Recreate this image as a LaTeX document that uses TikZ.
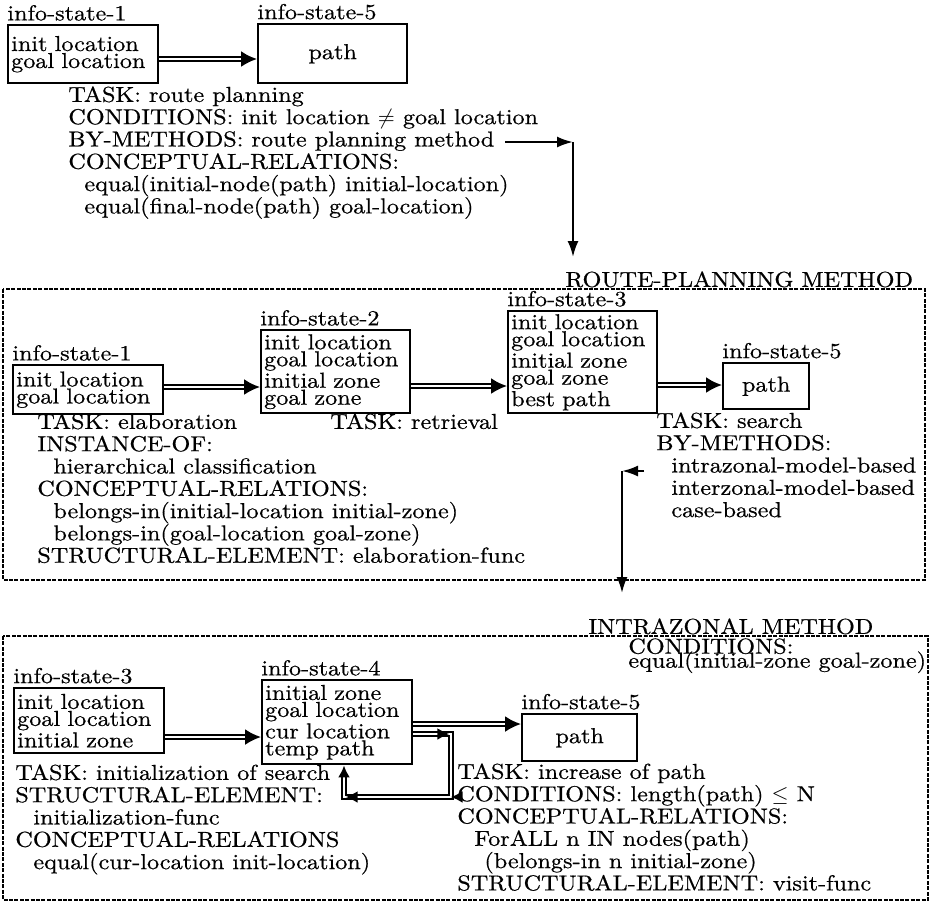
\documentclass[tikz,border=0pt]{standalone}
\usepackage{fontspec}
\setmainfont{lmroman10-regular.otf}[FakeStretch=1.12, FakeBold=0.6]
\usetikzlibrary{arrows.meta, decorations.markings}
\lineskiplimit=-20pt

\begin{document}
\begin{tikzpicture}[x=0.5pt, y=-0.5pt,
    every node/.style={font=\fontsize{10.8}{11.15}\selectfont},
    txt/.style={anchor=north west, align=left, inner sep=0pt},
    lbl/.style={anchor=south west, inner sep=0pt, yshift=1.5pt},
    infobox/.style={draw, line width=1.2pt, anchor=north west, inner sep=1.5pt, align=left, text width=#1, font=\fontsize{10.8}{8.5}\selectfont},
    pathbox/.style={draw, line width=1.2pt, anchor=north west, minimum width=#1},
    frame/.style={line width=0.9pt, dash pattern=on 2pt off 0.7pt},
    arr/.style={line width=1.1pt, -{Latex[length=8pt,width=5.5pt]}},
    dblarr/.style={double, double distance=1pt, line width=1.1pt, -{Latex[length=8pt,width=8pt]}}]
  \useasboundingbox (0,0) rectangle (930,902);

  % route planning task
  \node[infobox=72pt, minimum height=29pt] (a1) at (7,24) {init location\\goal location};
  \node[pathbox=74.5pt, minimum height=29.5pt] (a5) at (257,23) {path};
  \node[lbl] (a1l) at (a1.north west) {info-state-1};
  \node[lbl] (a5l) at (a5.north west) {info-state-5};
  \draw[dblarr] (a1.east |- 0,59) -- (a5.west |- 0,59);
  \node[txt] (t1) at (68,86) {TASK: route planning\\
    CONDITIONS: init location $\neq$ goal location\\
    BY-METHODS: route planning method\\
    CONCEPTUAL-RELATIONS:\\
    \hspace*{8pt}equal(initial-node(path) initial-location)\\
    \hspace*{8pt}equal(final-node(path) goal-location)};
  \coordinate (rp0) at (505,142);
  \coordinate (rp1) at (573,142);
  \coordinate (rp2) at (573,257);
  \draw[arr] (rp0) -- (rp1);
  \draw[arr] (rp1) -- (rp2);

  % route-planning method
  \draw[frame] (3,289) rectangle (925,580);
  \node[txt] (rpm) at (565,271) {ROUTE-PLANNING METHOD};
  \node[infobox=72pt, minimum height=24.5pt] (m1) at (12,364) {init location\\goal location};
  \node[infobox=71.5pt, minimum height=41.5pt] (m2) at (260,329) {init location\\goal location\\initial zone\\goal zone};
  \node[infobox=71.5pt, minimum height=50pt] (m3) at (507,310) {init location\\goal location\\initial zone\\goal zone\\best path};
  \node[pathbox=43pt, minimum height=23pt] (m5) at (722,362) {path};
  \node[lbl] (m1l) at (m1.north west) {info-state-1};
  \node[lbl] (m2l) at (m2.north west) {info-state-2};
  \node[lbl] (m3l) at (m3.north west) {info-state-3};
  \node[lbl] (m5l) at (m5.north west) {info-state-5};
  \draw[dblarr] (m1.east |- 0,387) -- (m2.west |- 0,387);
  \draw[dblarr] (m2.east |- 0,386) -- (m3.west |- 0,386);
  \draw[dblarr] (m3.east |- 0,385) -- (m5.west |- 0,385);
  \node[txt] (t2) at (37,413) {TASK: elaboration\\
    INSTANCE-OF:\\
    \hspace*{8pt}hierarchical classification\\
    CONCEPTUAL-RELATIONS:\\
    \hspace*{8pt}belongs-in(initial-location initial-zone)\\
    \hspace*{8pt}belongs-in(goal-location goal-zone)\\
    STRUCTURAL-ELEMENT: elaboration-func};
  \node[txt] (t3) at (330,413) {TASK: retrieval};
  \node[txt] (t4) at (656,412) {TASK: search\\
    BY-METHODS:\\
    \hspace*{7.5pt}intrazonal-model-based\\
    \hspace*{7.5pt}interzonal-model-based\\
    \hspace*{7.5pt}case-based};
  \coordinate (sm0) at (644,471);
  \coordinate (sm1) at (622,471);
  \coordinate (sm2) at (622,593);
  \draw[arr] (sm0) -- (sm1);
  \draw[arr] (sm1) -- (sm2);

  % intrazonal method
  \draw[frame] (3,636) rectangle (928,900);
  \node[txt] (imt) at (588,618) {INTRAZONAL METHOD};
  \node[txt, font=\fontsize{10.8}{7}\selectfont] (imc) at (628,638) {CONDITIONS:\\equal(initial-zone goal-zone)};
  \node[infobox=72pt, minimum height=32.5pt] (b3) at (13,687) {init location\\goal location\\initial zone};
  \node[infobox=72pt, minimum height=42pt] (b4) at (261,679) {initial zone\\goal location\\cur location\\temp path};
  \node[pathbox=57.5pt, minimum height=23.5pt] (b5) at (521,713) {path};
  \node[lbl] (b3l) at (b3.north west) {info-state-3};
  \node[lbl] (b4l) at (b4.north west) {info-state-4};
  \node[lbl] (b5l) at (b5.north west) {info-state-5};
  \draw[dblarr] (b3.east |- 0,737) -- (b4.west |- 0,737);
  \draw[dblarr] (b4.east |- 0,724) -- (b5.west |- 0,724);
  \coordinate (lp1) at (451,734);
  \coordinate (lp2) at (451,797);
  \coordinate (lp3) at (344,797);
  \draw[dblarr, -{Latex[length=6pt,width=6pt]}, postaction={decorate},
    decoration={markings,
      mark=at position 18pt with {\arrow{Latex[length=6pt,width=6pt]}},
      mark=at position 50.5pt with {\arrow{Latex[length=6pt,width=6pt]}},
      mark=at position 103pt with {\arrow{Latex[length=6pt,width=6pt]}}}]
    (b4.east |- lp1) -- (lp1) -- (lp2) -- (lp3) -- (lp3 |- b4.south);
  \node[txt] (t5) at (15,764) {TASK: initialization of search\\
    STRUCTURAL-ELEMENT:\\
    \hspace*{9pt}initialization-func\\
    CONCEPTUAL-RELATIONS\\
    \hspace*{9pt}equal(cur-location init-location)};
  \node[txt] (t6) at (457,763) {TASK: increase of path\\
    CONDITIONS: length(path) $\leq$ N\\
    CONCEPTUAL-RELATIONS:\\
    \hspace*{8.5pt}ForALL n IN nodes(path)\\
    \hspace*{13.5pt}(belongs-in n initial-zone)\\
    STRUCTURAL-ELEMENT: visit-func};
\end{tikzpicture}
\end{document}
